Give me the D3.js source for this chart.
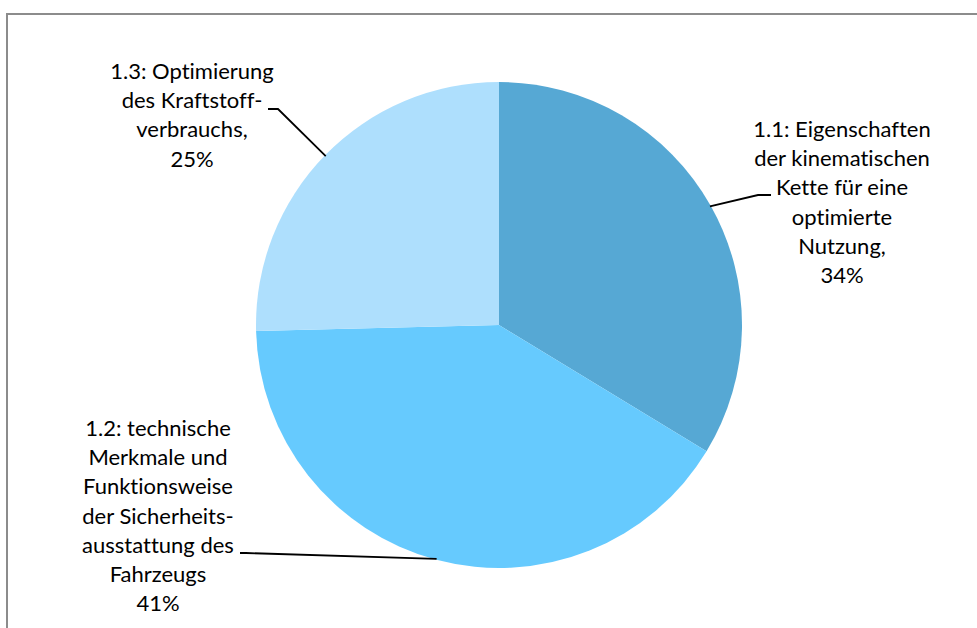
<!DOCTYPE html>
<html>
<head>
<meta charset="utf-8">
<script src="https://cdn.jsdelivr.net/npm/d3@7"></script>
<style>
  html, body { margin: 0; padding: 0; background: #fff; }
  svg { display: block; }
  text { font-family: Lato, "Open Sans", sans-serif; fill: #000; font-variant-ligatures: none; font-feature-settings: "liga" 0, "clig" 0; }
</style>
</head>
<body>
<svg id="chart" width="977" height="628"></svg>
<script>
// Data
const categories = ["1.1", "1.2", "1.3"];
const labelLines = [
  ["1.1: Eigenschaften", "der kinematischen", "Kette für eine", "optimierte", "Nutzung,", "34%"],
  ["1.2: technische", "Merkmale und", "Funktionsweise", "der Sicherheits-", "ausstattung des", "Fahrzeugs", "41%"],
  ["1.3: Optimierung", "des Kraftstoff-", "verbrauchs,", "25%"]
];
const values = [33.7, 40.9, 25.4];
const colors = ["#56A8D4", "#66CAFE", "#AEDFFD"];

const W = 977, H = 628;
const cx = 499, cy = 325, R = 243;

const svg = d3.select("#chart");

// chart area border (extends past right/bottom edge)
svg.append("rect")
  .attr("x", 7).attr("y", 14)
  .attr("width", 1000).attr("height", 700)
  .attr("fill", "#fff")
  .attr("stroke", "#8c8c8c")
  .attr("stroke-width", 2);

const pie = d3.pie().sort(null).value(d => d)(values);
const arc = d3.arc().innerRadius(0).outerRadius(R);

const g = svg.append("g").attr("transform", `translate(${cx},${cy})`);
g.selectAll("path.slice")
  .data(pie)
  .enter().append("path")
  .attr("class", "slice")
  .attr("d", arc)
  .attr("fill", (d, i) => colors[i]);

// label layout (positions of label blocks)
const labelPos = [
  { x: 842, y: 137 },
  { x: 158, y: 436 },
  { x: 192, y: 79 }
];
const lineH = 29.2;

labelLines.forEach((lines, i) => {
  const t = svg.append("text")
    .attr("text-anchor", "middle")
    .attr("font-size", 22);
  lines.forEach((ln, j) => {
    t.append("tspan")
      .attr("x", labelPos[i].x)
      .attr("y", labelPos[i].y + j * lineH)
      .text(ln);
  });
});

// leader lines: end on the arc at slice mid-angle
const leaderDefs = [
  { start: [771, 195], elbow: [758, 195] },
  { start: [240, 553], elbow: [246, 553] },
  { start: [268, 109], elbow: [278, 109] }
];
leaderDefs.forEach((L, i) => {
  const d = pie[i];
  const a = (d.startAngle + d.endAngle) / 2;
  const px = cx + (R - 1) * Math.sin(a), py = cy - (R - 1) * Math.cos(a);
  svg.append("path")
    .attr("d", d3.line()([L.start, L.elbow, [px, py]]))
    .attr("fill", "none")
    .attr("stroke", "#000")
    .attr("stroke-width", 1.8);
});
</script>
</body>
</html>
